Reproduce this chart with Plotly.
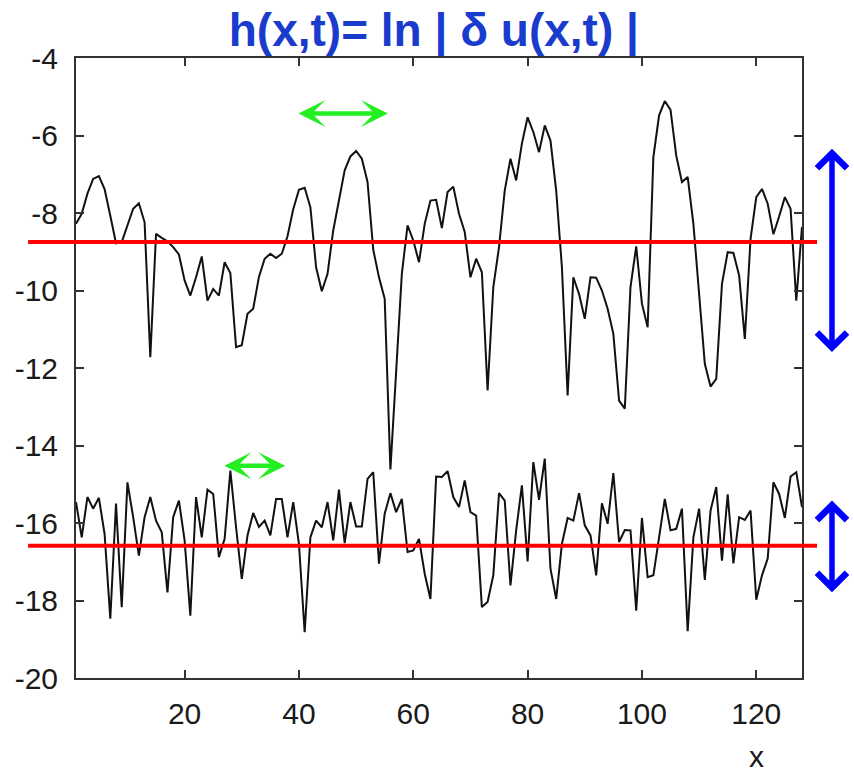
import plotly.graph_objects as go

# ---- data ----
x_vals = list(range(1, 129))

upper_h = [
    -8.28, -8.02, -7.50, -7.12, -7.05, -7.38, -8.07, -8.78, -8.75, -8.32,
    -7.89, -7.75, -8.24, -11.72, -8.54, -8.64, -8.73, -8.88, -9.07, -9.74,
    -10.13, -9.66, -9.12, -10.26, -9.96, -10.13, -9.27, -9.55, -11.46, -11.41,
    -10.60, -10.47, -9.65, -9.18, -9.05, -9.16, -9.05, -8.60, -7.90, -7.40,
    -7.35, -7.85, -9.40, -10.02, -9.57, -8.45, -7.68, -6.90, -6.54, -6.40,
    -6.60, -7.20, -8.95, -9.66, -10.21, -14.62, -12.10, -9.57, -8.32, -8.71,
    -9.27, -8.28, -7.68, -7.66, -8.39, -7.46, -7.32, -8.02, -8.49, -9.66,
    -9.18, -9.53, -12.58, -9.91, -8.88, -7.42, -6.60, -7.16, -6.21, -5.53,
    -5.91, -6.43, -5.74, -6.13, -7.42, -9.40, -12.71, -9.66, -10.09, -10.73,
    -9.66, -9.67, -10.00, -10.47, -11.12, -12.84, -13.05, -9.91, -8.86, -10.34,
    -10.95, -6.56, -5.48, -5.11, -5.34, -6.52, -7.20, -7.07, -8.28, -10.00,
    -11.89, -12.48, -12.28, -9.83, -9.01, -9.03, -9.61, -11.25, -8.67, -7.59,
    -7.38, -7.76, -8.55, -8.09, -7.59, -7.89, -10.26, -8.36,
]

lower_h = [
    -15.46, -16.37, -15.33, -15.63, -15.35, -16.28, -18.47, -15.50, -18.17, -14.95,
    -15.85, -16.84, -15.85, -15.33, -15.94, -16.24, -17.79, -15.85, -15.42, -16.45,
    -18.39, -15.33, -16.37, -15.14, -15.25, -16.88, -16.41, -14.65, -16.11, -17.44,
    -16.32, -15.74, -16.10, -15.94, -16.32, -15.38, -15.38, -16.37, -15.46, -16.54,
    -18.82, -16.37, -15.94, -16.11, -15.46, -16.45, -15.14, -16.52, -15.46, -16.09,
    -16.09, -14.86, -14.69, -17.05, -15.76, -15.23, -15.72, -15.38, -16.75, -16.71,
    -16.41, -17.31, -17.96, -14.80, -14.81, -14.66, -15.33, -15.59, -14.90, -15.72,
    -15.81, -18.17, -18.04, -17.35, -15.23, -15.42, -17.61, -16.19, -15.03, -16.99,
    -14.43, -15.40, -14.34, -17.18, -17.96, -16.54, -15.87, -15.94, -15.23, -16.06,
    -16.32, -17.35, -15.49, -16.02, -14.71, -16.49, -16.18, -16.19, -18.26, -15.87,
    -17.40, -17.35, -16.37, -15.38, -16.19, -16.15, -15.63, -18.79, -16.37, -15.63,
    -17.47, -15.68, -15.07, -16.97, -15.26, -17.04, -15.85, -15.92, -15.68, -17.98,
    -17.35, -16.92, -14.95, -15.25, -15.87, -14.80, -14.69, -15.59,
]

mean_levels = [-8.75, -16.59]

x_ticks = [20, 40, 60, 80, 100, 120]
y_ticks = [-4, -6, -8, -10, -12, -14, -16, -18, -20]

title_text = "h(x,t)= ln | δ u(x,t) |"

# ---- figure ----
fig = go.Figure()
for series in (upper_h, lower_h):
    fig.add_trace(go.Scatter(
        x=x_vals, y=series, mode="lines",
        line=dict(color="#111111", width=2),
        showlegend=False, hoverinfo="skip",
    ))

for lvl in mean_levels:
    fig.add_shape(type="line", xref="paper", yref="y",
                  x0=-0.066, x1=1.0207, y0=lvl, y1=lvl,
                  line=dict(color="#ff0000", width=4), layer="above")

tick_font = dict(family="Liberation Sans, Arial, sans-serif", size=30, color="#1a1a1a")

fig.update_xaxes(
    range=[1, 128], tickvals=x_ticks, ticktext=[str(v) for v in x_ticks],
    showline=True, linecolor="#333333", linewidth=2, mirror="ticks",
    ticks="inside", ticklen=8, tickwidth=1.5, tickcolor="#333333",
    showgrid=False, zeroline=False, tickfont=tick_font, ticklabelstandoff=8,
)
fig.update_yaxes(
    range=[-20, -4], tickvals=y_ticks, ticktext=[str(v) for v in y_ticks],
    showline=True, linecolor="#333333", linewidth=2, mirror="ticks",
    ticks="inside", ticklen=8, tickwidth=1.5, tickcolor="#333333",
    showgrid=False, zeroline=False, tickfont=tick_font, ticklabelstandoff=10,
)

annotations = []
# x axis label
annotations.append(dict(xref="x", yref="paper", x=120, y=-0.127, text="x",
                        showarrow=False, font=tick_font, xanchor="center", yanchor="middle"))
# blue double arrows (outside the plot, right)
for (head, tail) in [(-11.59, -6.30), (-17.79, -15.38)]:
    annotations.append(dict(
        xref="paper", yref="y", x=1.0413, y=head,
        axref="pixel", ayref="y", ax=0, ay=tail,
        text="", showarrow=True, arrowside="end+start",
        arrowhead=4, startarrowhead=4, arrowsize=1.05, startarrowsize=1.05,
        arrowwidth=5.5, arrowcolor="#0000ff", standoff=0, startstandoff=0,
    ))
# green double arrows (inside the plot)
for (x0, x1, yv) in [(39.66, 55.57, -5.43), (26.7, 37.6, -14.52)]:
    annotations.append(dict(
        xref="x", yref="y", x=x1, y=yv,
        axref="x", ayref="y", ax=x0, ay=yv,
        text="", showarrow=True, arrowside="end+start",
        arrowhead=3, startarrowhead=3, arrowsize=1.0, startarrowsize=1.0,
        arrowwidth=4.5, arrowcolor="#22ee22", standoff=0, startstandoff=0,
    ))

fig.update_layout(
    width=854, height=774,
    margin=dict(l=76, r=52, t=58, b=96),
    paper_bgcolor="white", plot_bgcolor="white",
    title=dict(text=title_text, x=0.508, xanchor="center", xref="container",
               y=1 - 30 / 774, yanchor="middle", yref="container",
               font=dict(family="Liberation Sans, Arial, sans-serif", size=46,
                         color="#1a3ccc", weight="bold")),
    annotations=annotations,
)

fig.write_html("out.html")
